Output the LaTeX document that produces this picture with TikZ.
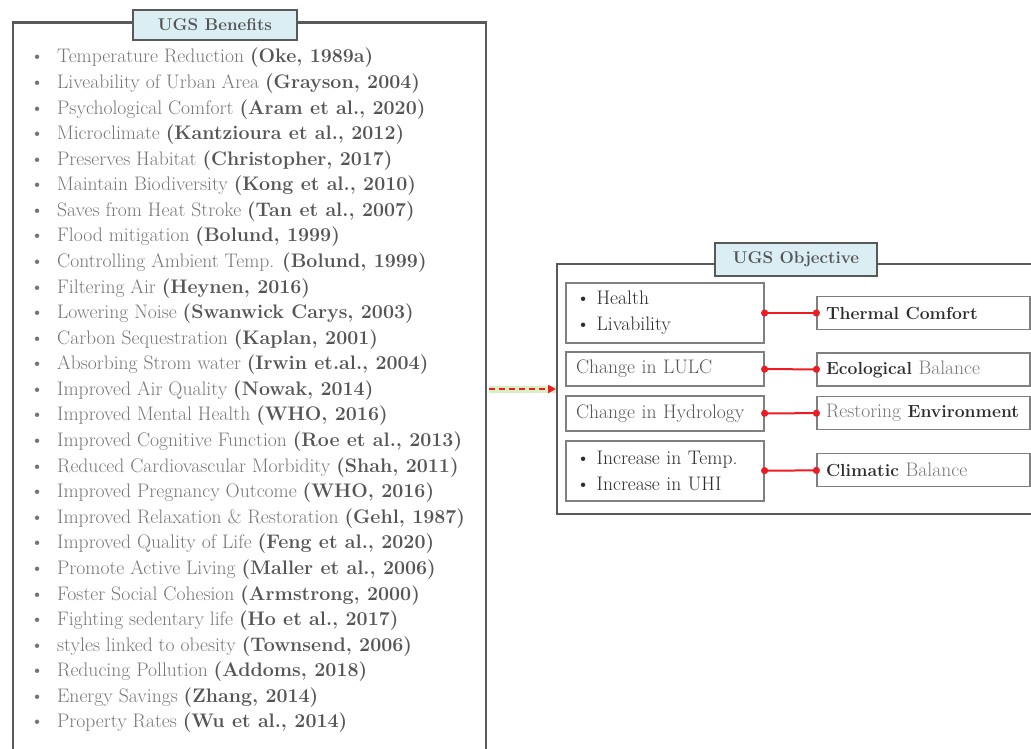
\documentclass[tikz,border=0pt]{standalone}
\usepackage{xcolor}
\usepackage{amsmath}
\usepackage{tikz}
\usetikzlibrary{arrows.meta}

\definecolor{txtgray}{RGB}{118,118,118}
\definecolor{refgray}{RGB}{85,85,85}
\definecolor{darktxt}{RGB}{45,45,45}
\definecolor{framegray}{RGB}{89,89,89}
\definecolor{boxgray}{RGB}{128,128,128}
\definecolor{titlefill}{RGB}{218,238,243}
\definecolor{linkred}{RGB}{235,28,36}
\definecolor{glowgreen}{RGB}{170,220,120}

\newcommand{\rf}[1]{\textcolor{refgray}{\textbf{#1}}}
\newcommand{\dk}[1]{\textcolor{darktxt}{\fontsize{17.5}{22}\selectfont\textbf{#1}}}
\newcommand{\bul}{\makebox[27pt][l]{\textbullet}}

\begin{document}
\begin{tikzpicture}[x=1pt, y=-1pt, font=\fontsize{19.6}{26}\selectfont,
  frame/.style={draw=framegray, line width=2.5pt},
  title/.style={draw=framegray, line width=1.5pt, fill=titlefill, text=refgray, font=\fontsize{17}{22}\selectfont\bfseries},
  item/.style={anchor=west, inner sep=0pt, text=txtgray},
  cause/.style={draw=boxgray, line width=1.2pt, text width=178pt, inner xsep=10pt, inner ysep=0pt, align=left, text=refgray},
  effect/.style={draw=boxgray, line width=1.2pt, minimum height=33pt, text width=195pt, inner xsep=9pt, inner ysep=0pt, align=left, text=txtgray},
  link/.style={draw=linkred, line width=2pt, {Circle[length=7pt]}-{Circle[length=7pt]}, shorten <=-3.5pt, shorten >=-3.5pt},
  dasharrow/.style={draw=linkred, line width=2pt, dash pattern=on 6pt off 4pt, -{Triangle[length=8pt,width=8pt]}},
  glow/.style={draw=glowgreen, line width=7pt, opacity=0.45}]
\useasboundingbox (0,0) rectangle (1031,749);

% frames, open at the page edge
\draw[frame] (13,749) -- (13,22.5) -- (486,22.5) -- (486,749);
\draw[frame] (1031,264) -- (557,264) -- (557,514) -- (1031,514);

\node[title, minimum width=164pt, minimum height=30pt] (bentitle) at (215,25) {UGS Benefits};
\node[title, minimum width=162pt, minimum height=33pt] (objtitle) at (796,259.5) {UGS Objective};

% benefits list
\node[item] (b1) at (30,58) {\bul Temperature Reduction \rf{(Oke, 1989a)}};
\node[item] (b2) at (30,83.6) {\bul Liveability of Urban Area \rf{(Grayson, 2004)}};
\node[item] (b3) at (30,109.2) {\bul Psychological Comfort \rf{(Aram et al., 2020)}};
\node[item] (b4) at (30,134.7) {\bul Microclimate \rf{(Kantzioura et al., 2012)}};
\node[item] (b5) at (30,160.3) {\bul Preserves Habitat \rf{(Christopher, 2017)}};
\node[item] (b6) at (30,185.9) {\bul Maintain Biodiversity \rf{(Kong et al., 2010)}};
\node[item] (b7) at (30,211.5) {\bul Saves from Heat Stroke \rf{(Tan et al., 2007)}};
\node[item] (b8) at (30,237.1) {\bul Flood mitigation \rf{(Bolund, 1999)}};
\node[item] (b9) at (30,262.6) {\bul Controlling Ambient Temp. \rf{(Bolund, 1999)}};
\node[item] (b10) at (30,288.2) {\bul Filtering Air \rf{(Heynen, 2016)}};
\node[item] (b11) at (30,313.8) {\bul Lowering Noise \rf{(Swanwick Carys, 2003)}};
\node[item] (b12) at (30,339.4) {\bul Carbon Sequestration \rf{(Kaplan, 2001)}};
\node[item] (b13) at (30,365.0) {\bul Absorbing Strom water \rf{(Irwin et.al., 2004)}};
\node[item] (b14) at (30,390.5) {\bul Improved Air Quality \rf{(Nowak, 2014)}};
\node[item] (b15) at (30,416.1) {\bul Improved Mental Health \rf{(WHO, 2016)}};
\node[item] (b16) at (30,441.7) {\bul Improved Cognitive Function \rf{(Roe et al., 2013)}};
\node[item] (b17) at (30,467.3) {\bul Reduced Cardiovascular Morbidity \rf{(Shah, 2011)}};
\node[item] (b18) at (30,492.9) {\bul Improved Pregnancy Outcome \rf{(WHO, 2016)}};
\node[item] (b19) at (30,518.4) {\bul Improved Relaxation \& Restoration \rf{(Gehl, 1987)}};
\node[item] (b20) at (30,544.0) {\bul Improved Quality of Life \rf{(Feng et al., 2020)}};
\node[item] (b21) at (30,569.6) {\bul Promote Active Living \rf{(Maller et al., 2006)}};
\node[item] (b22) at (30,595.2) {\bul Foster Social Cohesion \rf{(Armstrong, 2000)}};
\node[item] (b23) at (30,620.8) {\bul Fighting sedentary life \rf{(Ho et al., 2017)}};
\node[item] (b24) at (30,646.3) {\bul styles linked to obesity \rf{(Townsend, 2006)}};
\node[item] (b25) at (30,671.9) {\bul Reducing Pollution \rf{(Addoms, 2018)}};
\node[item] (b26) at (30,697.5) {\bul Energy Savings \rf{(Zhang, 2014)}};
\node[item] (b27) at (30,723.1) {\bul Property Rates \rf{(Wu et al., 2014)}};

% objective boxes
\node[cause, minimum height=60pt, text=darktxt] (health) at (665,313) {\textbullet\ Health\\\textbullet\ Livability};
\node[cause, minimum height=34pt] (lulc) at (665,369) {Change in LULC};
\node[cause, minimum height=35pt] (hydro) at (665,413.5) {Change in Hydrology};
\node[cause, minimum height=60pt, text=darktxt] (temp) at (665,471) {\textbullet\ Increase in Temp.\\\textbullet\ Increase in UHI};

\node[effect] (thermal) at (923.5,313) {\dk{Thermal Comfort}};
\node[effect] (ecolog) at (923.5,369.5) {\dk{Ecological} Balance};
\node[effect] (environ) at (923.5,413) {\mbox{Restoring \dk{Environment}}};
\node[effect] (climate) at (923.5,470) {\dk{Climatic} Balance};

\draw[link] (health) -- (thermal);
\draw[link] (lulc) -- (ecolog);
\draw[link] (hydro) -- (environ);
\draw[link] (temp) -- (climate);

\coordinate (benE) at (489,389);
\coordinate (objW) at (556,389);
\draw[glow] (benE) -- (objW);
\draw[dasharrow] (benE) -- (objW);
\end{tikzpicture}
\end{document}
